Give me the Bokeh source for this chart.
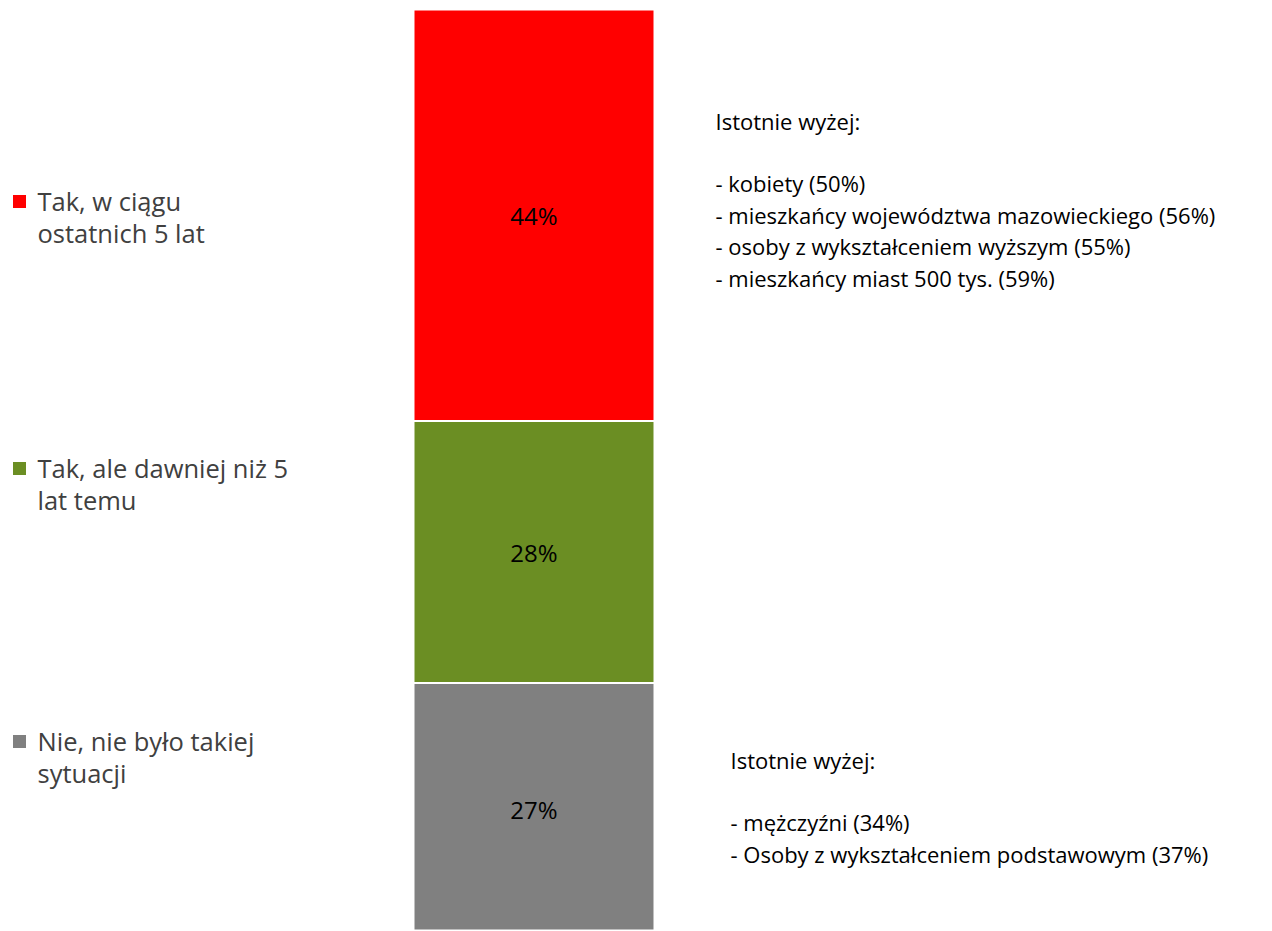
from bokeh.plotting import figure
from bokeh.models import Range1d, ColumnDataSource
from bokeh.core.properties import value
from bokeh.embed import file_html
from bokeh.resources import INLINE

# ---- data ----
categories = ["Nie, nie było takiej sytuacji", "Tak, ale dawniej niż 5 lat temu", "Tak, w ciągu ostatnich 5 lat"]
values = [27, 28, 44]
colors = ["#808080", "#6B8E23", "#FF0000"]
legend_lines = [["Nie, nie było takiej", "sytuacji"],
                ["Tak, ale dawniej niż 5", "lat temu"],
                ["Tak, w ciągu", "ostatnich 5 lat"]]
note_top = ["Istotnie wyżej:", "", "- kobiety (50%)",
            "- mieszkańcy województwa mazowieckiego (56%)",
            "- osoby z wykształceniem wyższym (55%)",
            "- mieszkańcy miast  500 tys. (59%)"]
note_bottom = ["Istotnie wyżej:", "", "- mężczyźni (34%)",
               "- Osoby z wykształceniem podstawowym (37%)"]

W, H = 1270, 930
FONT = "Open Sans"

p = figure(width=W, height=H, output_backend="svg", toolbar_location=None,
           x_range=Range1d(0, W), y_range=Range1d(0.54, 99.96),
           min_border=0, outline_line_color=None, background_fill_color="white")
p.axis.visible = False
p.grid.visible = False
p.extra_y_ranges = {"px": Range1d(start=H, end=0)}

# stacked bar
bottoms, tops = [], []
acc = 0
for v in values:
    bottoms.append(acc)
    acc += v
    tops.append(acc)
src = ColumnDataSource(dict(bottom=bottoms, top=tops, color=colors,
                            mid=[(b + t) / 2 for b, t in zip(bottoms, tops)],
                            label=[f"{v}%" for v in values]))
bar_x = 533.5
p.vbar(x=bar_x, width=241, bottom="bottom", top="top", fill_color="color",
       line_color="white", line_width=2, source=src)
p.text(x=bar_x, y="mid", text="label", source=src, text_align="center",
       text_baseline="middle", text_font=value(FONT), text_font_size="24px",
       text_color="#000000")

# legend (custom positioned)
legend_y = [740, 467, 200]
for lines, c, y in zip(legend_lines, colors, legend_y):
    p.rect(x=[19], y=[y + 1], width=13, height=13, fill_color=c, line_color=None,
           y_range_name="px")
    p.text(x=[37] * len(lines), y=[y + i * 32 for i in range(len(lines))], text=lines,
           text_align="left", text_baseline="middle", text_font=value(FONT),
           text_font_size="25.5px", text_color="#404040", y_range_name="px")

# notes
def note(lines, x, y0, step=31.4):
    ys = [y0 + i * step for i in range(len(lines))]
    p.text(x=[x] * len(lines), y=ys, text=lines, text_align="left",
           text_baseline="middle", text_font=value(FONT), text_font_size="22px",
           text_color="#000000", y_range_name="px")

note(note_top, 715, 120)
note(note_bottom, 730, 759)

open("out.html", "w").write(file_html(p, INLINE))
